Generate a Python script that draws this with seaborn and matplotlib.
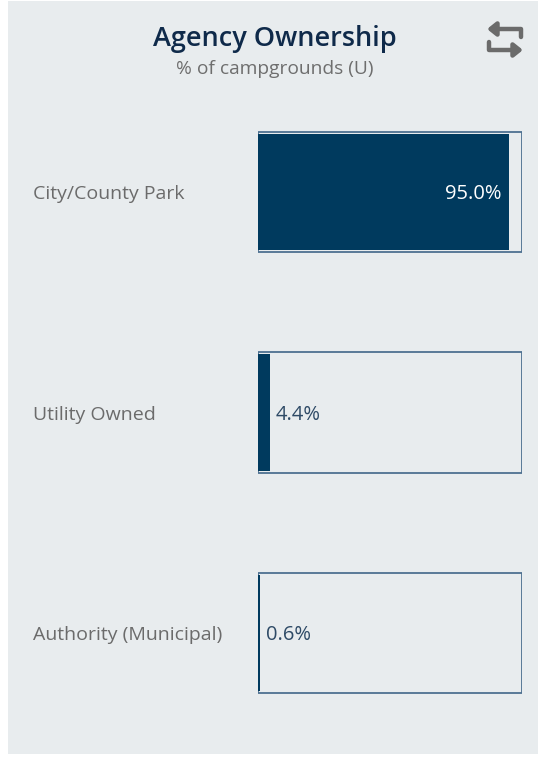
import matplotlib
matplotlib.use("Agg")
import matplotlib.pyplot as plt
import seaborn as sns
from matplotlib.patches import Rectangle, FancyArrowPatch
from matplotlib.path import Path

categories = ["City/County Park", "Utility Owned", "Authority (Municipal)"]
values = [95.0, 4.4, 0.6]
value_labels = ["95.0%", "4.4%", "0.6%"]
totals = [100, 100, 100]

TITLE = "Agency Ownership"
SUBTITLE = "% of campgrounds (U)"

BG = "#e8ecee"
NAVY = "#003a5e"
OUTLINE = "#4d7090"
LABEL_GRAY = "#6b6b6b"
FONT = ["Open Sans", "DejaVu Sans"]

sns.set_theme(style="white")
plt.rcParams["font.family"] = FONT

W, H = 538, 757
fig = plt.figure(figsize=(W / 100, H / 100), dpi=100, facecolor="white")

# background panel and overlay canvas in pixel coordinates
canvas = fig.add_axes([0, 0, 1, 1])
canvas.set_xlim(0, W)
canvas.set_ylim(H, 0)
canvas.axis("off")
canvas.add_patch(Rectangle((8, 1), W - 8, 753, facecolor=BG, edgecolor="none", zorder=0))

# bar axes: x 0..100 spans px 258..522, categories centred at ~192, 412, 633
x0, x1 = 258, 522
step = 220.5
ytop = 192 - 0.5 * step
ybot = 633 + 0.5 * step
ax = fig.add_axes([x0 / W, 1 - ybot / H, (x1 - x0) / W, (ybot - ytop) / H])
ax.patch.set_alpha(0)

sns.barplot(x=totals, y=categories, orient="h", ax=ax, color=BG,
            edgecolor=OUTLINE, linewidth=1.3, width=0.545, saturation=1)
sns.barplot(x=values, y=categories, orient="h", ax=ax, color=NAVY,
            edgecolor="none", linewidth=0, width=0.53, saturation=1)

ax.set_xlim(0, 100)
ax.set_ylim(2.5, -0.5)
ax.set_xticks([])
ax.set_yticks([])
ax.set_xlabel("")
ax.set_ylabel("")
for s in ax.spines.values():
    s.set_visible(False)

px_per_unit = (x1 - x0) / 100.0
dy = 2 / step  # small downward nudge for text baselines
for i, (v, lab) in enumerate(zip(values, value_labels)):
    if v > 50:
        ax.text(v - 7 / px_per_unit, i + dy, lab, ha="right", va="center",
                color="white", fontsize=14.5)
    else:
        ax.text(v + 6.5 / px_per_unit, i + dy, lab, ha="left", va="center",
                color="#2e4a66", fontsize=14.5, fontweight="medium")

# category labels at the left
for i, c in enumerate(categories):
    canvas.text(33, 194 + i * step, c, ha="left", va="center",
                color=LABEL_GRAY, fontsize=14)

# titles
canvas.text(275, 39, TITLE, ha="center", va="center", color="#0f2a4a",
            fontsize=19.5, fontweight="semibold")
canvas.text(275, 69, SUBTITLE, ha="center", va="center", color="#6e6e6e",
            fontsize=13.8)

# swap icon
icon_col = "#6b6b6b"
top = FancyArrowPatch(path=Path([(521, 37), (521, 29), (487, 29)],
                                [Path.MOVETO, Path.LINETO, Path.LINETO]),
                      arrowstyle="-|>,head_length=5,head_width=4",
                      color=icon_col, linewidth=3.2, joinstyle="round",
                      capstyle="round", mutation_scale=1)
bot = FancyArrowPatch(path=Path([(489, 42), (489, 50), (523, 50)],
                                [Path.MOVETO, Path.LINETO, Path.LINETO]),
                      arrowstyle="-|>,head_length=5,head_width=4",
                      color=icon_col, linewidth=3.2, joinstyle="round",
                      capstyle="round", mutation_scale=1)
canvas.add_patch(top)
canvas.add_patch(bot)

fig.savefig("out.png", dpi=100, facecolor="white")
